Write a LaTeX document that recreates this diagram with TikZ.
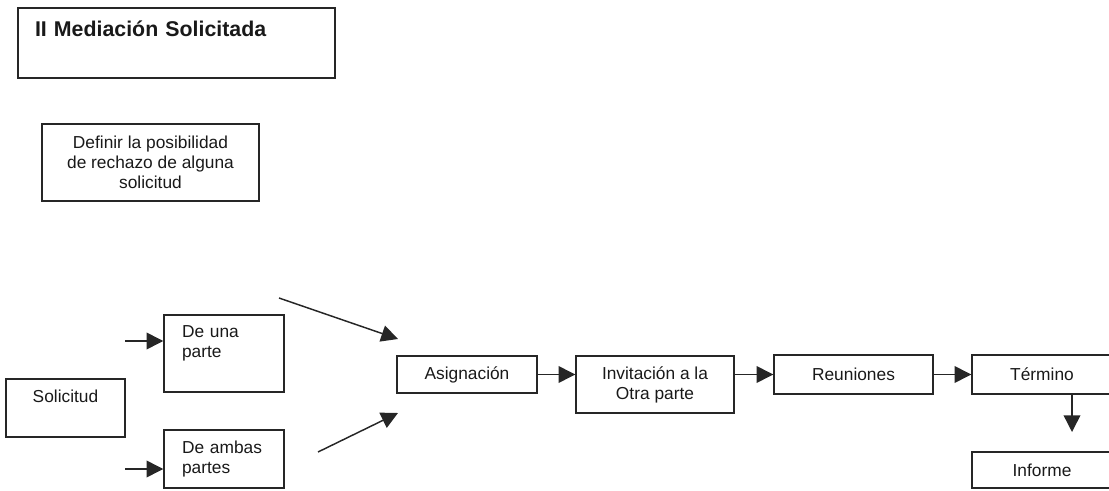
\documentclass[tikz,border=0pt]{standalone}
\usepackage{fontspec}
\setmainfont{Liberation Sans}
\usetikzlibrary{arrows.meta}
\begin{document}
\begin{tikzpicture}[x=0.75pt,y=-0.75pt,
  box/.style={draw=black!85,line width=1.1pt,font=\fontsize{13}{15}\selectfont,inner sep=0pt,text=black!90},
  arr/.style={draw=black!85,line width=1.1pt,-{Triangle[length=12.5pt,width=12.5pt]}}]
\clip (0,0) rectangle (1109,491);
% title
\node[box,minimum width=237.75pt,minimum height=52.5pt,text width=212.25pt,align=left,
  font=\fontsize{16}{17}\selectfont\bfseries] (title) at (176.5,43) {\strut II Mediación Solicitada\\\strut};
% definir
\node[box,minimum width=162.75pt,minimum height=57.75pt,align=center] (def) at (150.5,162.5)
  {Definir la posibilidad\\de rechazo de alguna\\solicitud};
% left column
\node[box,minimum width=89.25pt,minimum height=43.5pt,align=center] (sol) at (65.5,408) {\strut Solicitud\\\strut};
\node[box,minimum width=90pt,minimum height=57.75pt,text width=63pt,inner xsep=13.5pt,align=left] (deuna) at (224,353.5)
  {\strut De una\\\strut parte\\\strut};
\node[box,minimum width=90pt,minimum height=43.5pt,text width=63pt,inner xsep=13.5pt,align=left] (deambas) at (224,459)
  {\strut De ambas\\\strut partes};
% main row
\node[box,minimum width=105pt,minimum height=27.75pt] (asig) at (467,374.5) {Asignación};
\node[box,minimum width=118.5pt,minimum height=42.75pt,align=center] (inv) at (655,384.5) {Invitación a la\\Otra parte};
\node[box,minimum width=119.25pt,minimum height=29.25pt] (reun) at (853.5,374.5) {Reuniones};
\node[box,minimum width=105pt,minimum height=29.25pt] (term) at (1042,374.5) {Término};
\node[box,minimum width=105pt,minimum height=27pt] (inf) at (1042,470) {Informe};
% connectors
\coordinate (s1) at (125,341);
\draw[arr] (s1) -- (s1 -| deuna.west);
\coordinate (s2) at (125,469);
\draw[arr] (s2) -- (s2 -| deambas.west);
\coordinate (d1a) at (279,298);
\coordinate (d1b) at (398,339);
\draw[arr] (d1a) -- (d1b);
\coordinate (d2a) at (318,452);
\coordinate (d2b) at (398,413);
\draw[arr] (d2a) -- (d2b);
\draw[arr] (asig.east) -- (asig.east -| inv.west);
\draw[arr] (reun.west -| inv.east) -- (reun.west);
\draw[arr] (reun.east) -- (term.west);
\coordinate (ti) at (1072,432);
\draw[arr] (term.south -| ti) -- (ti);
\end{tikzpicture}
\end{document}
